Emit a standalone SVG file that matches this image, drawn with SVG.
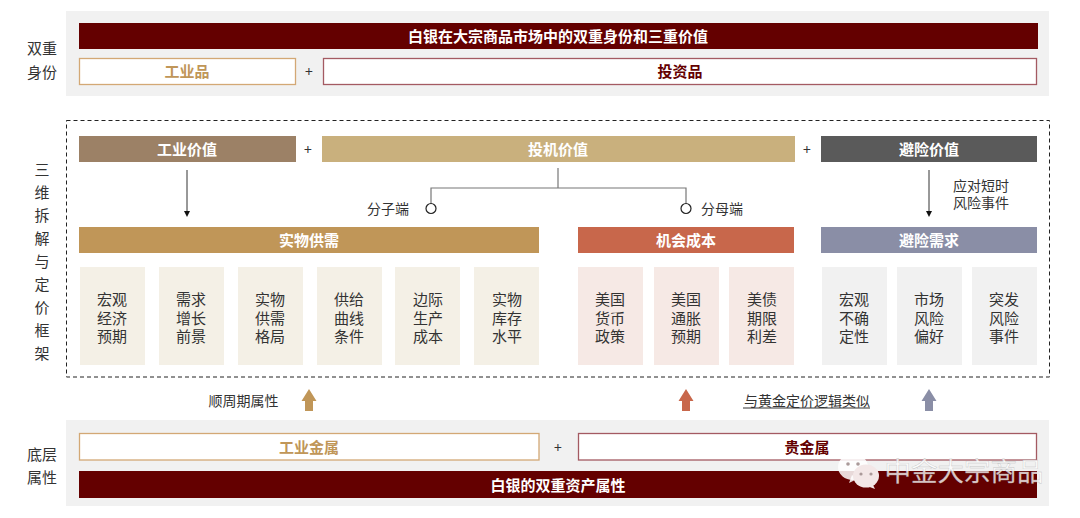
<svg xmlns="http://www.w3.org/2000/svg" width="1080" height="518" viewBox="0 0 1080 518">
<style>
text{font-family:"Noto Sans CJK SC","Liberation Sans",sans-serif;text-anchor:middle;dominant-baseline:central;font-size:15px;fill:#333}
.s{font-size:14px}
.w{fill:#fff;font-weight:700}
.panel{fill:#f1f1f1}
.dark{fill:#640000}
.ig{fill:#fff;stroke:#d3a875;stroke-width:1.3}
.ir{fill:#fff;stroke:#a45a62;stroke-width:1.3}
.tg{font-weight:700;fill:#c09658}
.tr2{font-weight:700;fill:#640000}
.c1{fill:#f4f0e6}.c2{fill:#f6e9e5}.c3{fill:#f1f1f1}
.ln{fill:none;stroke:#333;stroke-width:1}
.tr{fill:none;stroke:#777;stroke-width:1.2}
.plus{font-size:14px;fill:#333}
.dot{fill:#fff;stroke:#222;stroke-width:1.2}
</style>
<defs>
<marker id="ah" markerWidth="7" markerHeight="7" refX="3" refY="3" orient="auto" markerUnits="userSpaceOnUse"><path d="M0 0L6 3L0 6Z" fill="#111"/></marker>
<path id="up" d="M-4 11V1H-7.500L0-11L7.500 1H4V11Z"/>
</defs>
<rect class="panel" x="66" y="11" width="983" height="85"/>
<rect class="panel" x="66" y="420" width="983" height="86"/>
<text y="46.500"><tspan x="42">双重</tspan><tspan x="42" dy="24">身份</tspan></text>
<text y="452.500"><tspan x="42">底层</tspan><tspan x="42" dy="23">属性</tspan></text>
<text y="167.500"><tspan x="42">三</tspan><tspan x="42" dy="23">维</tspan><tspan x="42" dy="23">拆</tspan><tspan x="42" dy="23">解</tspan><tspan x="42" dy="23">与</tspan><tspan x="42" dy="23">定</tspan><tspan x="42" dy="23">价</tspan><tspan x="42" dy="23">框</tspan><tspan x="42" dy="23">架</tspan></text>
<rect id="frame" x="66.500" y="120.500" width="983" height="256.500" fill="none" stroke="#222" stroke-width="1" stroke-dasharray="4 3"/>
<g id="connectors">
<path class="ln" d="M187 170V214" marker-end="url(#ah)"/>
<path class="ln" d="M929 170V214" marker-end="url(#ah)"/>
<path class="tr" d="M558 168V188M431 203V188H686V203"/>
<circle class="dot" cx="431" cy="208.500" r="5"/>
<circle class="dot" cx="686" cy="208.500" r="5"/>
<use href="#up" transform="translate(309 400)" fill="#c09658"/>
<use href="#up" transform="translate(686 400)" fill="#c8674b"/>
<use href="#up" transform="translate(929 400)" fill="#8a8ea6"/>
<path d="M743 408H870" stroke="#333" stroke-width="1"/>
</g>
<g id="n-title"><rect class="dark" x="79" y="23" width="959" height="26"/><text class="w" x="558" y="35.500">白银在大宗商品市场中的双重身份和三重价值</text></g>
<g id="n-gyp"><rect class="ig" x="79.500" y="58.500" width="216" height="26"/><text class="tg" x="187" y="70.500">工业品</text></g>
<text class="plus" x="309" y="71">+</text>
<g id="n-tzp"><rect class="ir" x="323.500" y="58.500" width="713" height="26"/><text class="tr2" x="680" y="70.500">投资品</text></g>
<g id="n-v1"><rect x="79" y="136" width="217" height="26" fill="#9c8166"/><text class="w" x="187" y="148.500">工业价值</text></g>
<text class="plus" x="308" y="149">+</text>
<g id="n-v2"><rect x="322" y="136" width="473" height="26" fill="#c9b07d"/><text class="w" x="558" y="148.500">投机价值</text></g>
<text class="plus" x="807" y="149">+</text>
<g id="n-v3"><rect x="821" y="136" width="216" height="26" fill="#5a5a5a"/><text class="w" x="929" y="148.500">避险价值</text></g>
<text class="s" x="388" y="208">分子端</text>
<text class="s" x="722" y="208">分母端</text>
<text class="s" y="185"><tspan x="981">应对短时</tspan><tspan x="981" dy="17">风险事件</tspan></text>
<g id="n-d1"><rect x="79" y="227" width="460" height="26" fill="#c09658"/><text class="w" x="309" y="239.500">实物供需</text></g>
<g id="n-d2"><rect x="578" y="227" width="216" height="26" fill="#c8674b"/><text class="w" x="686" y="239.500">机会成本</text></g>
<g id="n-d3"><rect x="821" y="227" width="216" height="26" fill="#8a8ea6"/><text class="w" x="929" y="239.500">避险需求</text></g>
<g id="c01"><rect class="c1" x="80" y="267" width="65" height="98"/><text y="298"><tspan x="112">宏观</tspan><tspan x="112" dy="18.500">经济</tspan><tspan x="112" dy="18.500">预期</tspan></text></g>
<g id="c02"><rect class="c1" x="159" y="267" width="65" height="98"/><text y="298"><tspan x="191">需求</tspan><tspan x="191" dy="18.500">增长</tspan><tspan x="191" dy="18.500">前景</tspan></text></g>
<g id="c03"><rect class="c1" x="238" y="267" width="65" height="98"/><text y="298"><tspan x="270">实物</tspan><tspan x="270" dy="18.500">供需</tspan><tspan x="270" dy="18.500">格局</tspan></text></g>
<g id="c04"><rect class="c1" x="317" y="267" width="65" height="98"/><text y="298"><tspan x="349">供给</tspan><tspan x="349" dy="18.500">曲线</tspan><tspan x="349" dy="18.500">条件</tspan></text></g>
<g id="c05"><rect class="c1" x="395" y="267" width="65" height="98"/><text y="298"><tspan x="428">边际</tspan><tspan x="428" dy="18.500">生产</tspan><tspan x="428" dy="18.500">成本</tspan></text></g>
<g id="c06"><rect class="c1" x="474" y="267" width="65" height="98"/><text y="298"><tspan x="507">实物</tspan><tspan x="507" dy="18.500">库存</tspan><tspan x="507" dy="18.500">水平</tspan></text></g>
<g id="c07"><rect class="c2" x="578" y="267" width="65" height="98"/><text y="298"><tspan x="610">美国</tspan><tspan x="610" dy="18.500">货币</tspan><tspan x="610" dy="18.500">政策</tspan></text></g>
<g id="c08"><rect class="c2" x="654" y="267" width="65" height="98"/><text y="298"><tspan x="686">美国</tspan><tspan x="686" dy="18.500">通胀</tspan><tspan x="686" dy="18.500">预期</tspan></text></g>
<g id="c09"><rect class="c2" x="729" y="267" width="65" height="98"/><text y="298"><tspan x="762">美债</tspan><tspan x="762" dy="18.500">期限</tspan><tspan x="762" dy="18.500">利差</tspan></text></g>
<g id="c10"><rect class="c3" x="822" y="267" width="65" height="98"/><text y="298"><tspan x="854">宏观</tspan><tspan x="854" dy="18.500">不确</tspan><tspan x="854" dy="18.500">定性</tspan></text></g>
<g id="c11"><rect class="c3" x="897" y="267" width="65" height="98"/><text y="298"><tspan x="929">市场</tspan><tspan x="929" dy="18.500">风险</tspan><tspan x="929" dy="18.500">偏好</tspan></text></g>
<g id="c12"><rect class="c3" x="972" y="267" width="65" height="98"/><text y="298"><tspan x="1004">突发</tspan><tspan x="1004" dy="18.500">风险</tspan><tspan x="1004" dy="18.500">事件</tspan></text></g>
<text class="s" x="243.500" y="400">顺周期属性</text>
<text class="s" x="807" y="400">与黄金定价逻辑类似</text>
<g id="n-b1"><rect class="ig" x="79.500" y="433.500" width="459.500" height="26.500"/><text class="tg" x="309" y="446.500">工业金属</text></g>
<text class="plus" x="558" y="447">+</text>
<g id="n-b2"><rect class="ir" x="578.500" y="433.500" width="458" height="26.500"/><text class="tr2" x="807" y="446.500">贵金属</text></g>
<g id="n-b3"><rect class="dark" x="79" y="471" width="958" height="27"/><text class="w" x="558" y="484.500">白银的双重资产属性</text></g>
<g id="watermark">
<path d="M852 475l-3 8 8-4z" fill="#fff" fill-opacity=".85"/>
<ellipse cx="853" cy="467" rx="15" ry="13" fill="#fff" fill-opacity=".85"/>
<circle cx="848" cy="464" r="1.800" fill="#a99"/><circle cx="858" cy="464" r="1.800" fill="#a99"/>
<path d="M872 483l3 6-8-3z" fill="#f3e7e7"/>
<ellipse cx="866" cy="476" rx="13" ry="11.500" fill="#f3e7e7"/>
<circle cx="861" cy="474" r="1.600" fill="#a99"/><circle cx="871" cy="474" r="1.600" fill="#a99"/>
<text x="964" y="469" style="font-size:26.500px;fill:#fff;fill-opacity:.8;stroke:#aaa;stroke-width:.4;stroke-opacity:.7">中金大宗商品</text>
</g>
</svg>
